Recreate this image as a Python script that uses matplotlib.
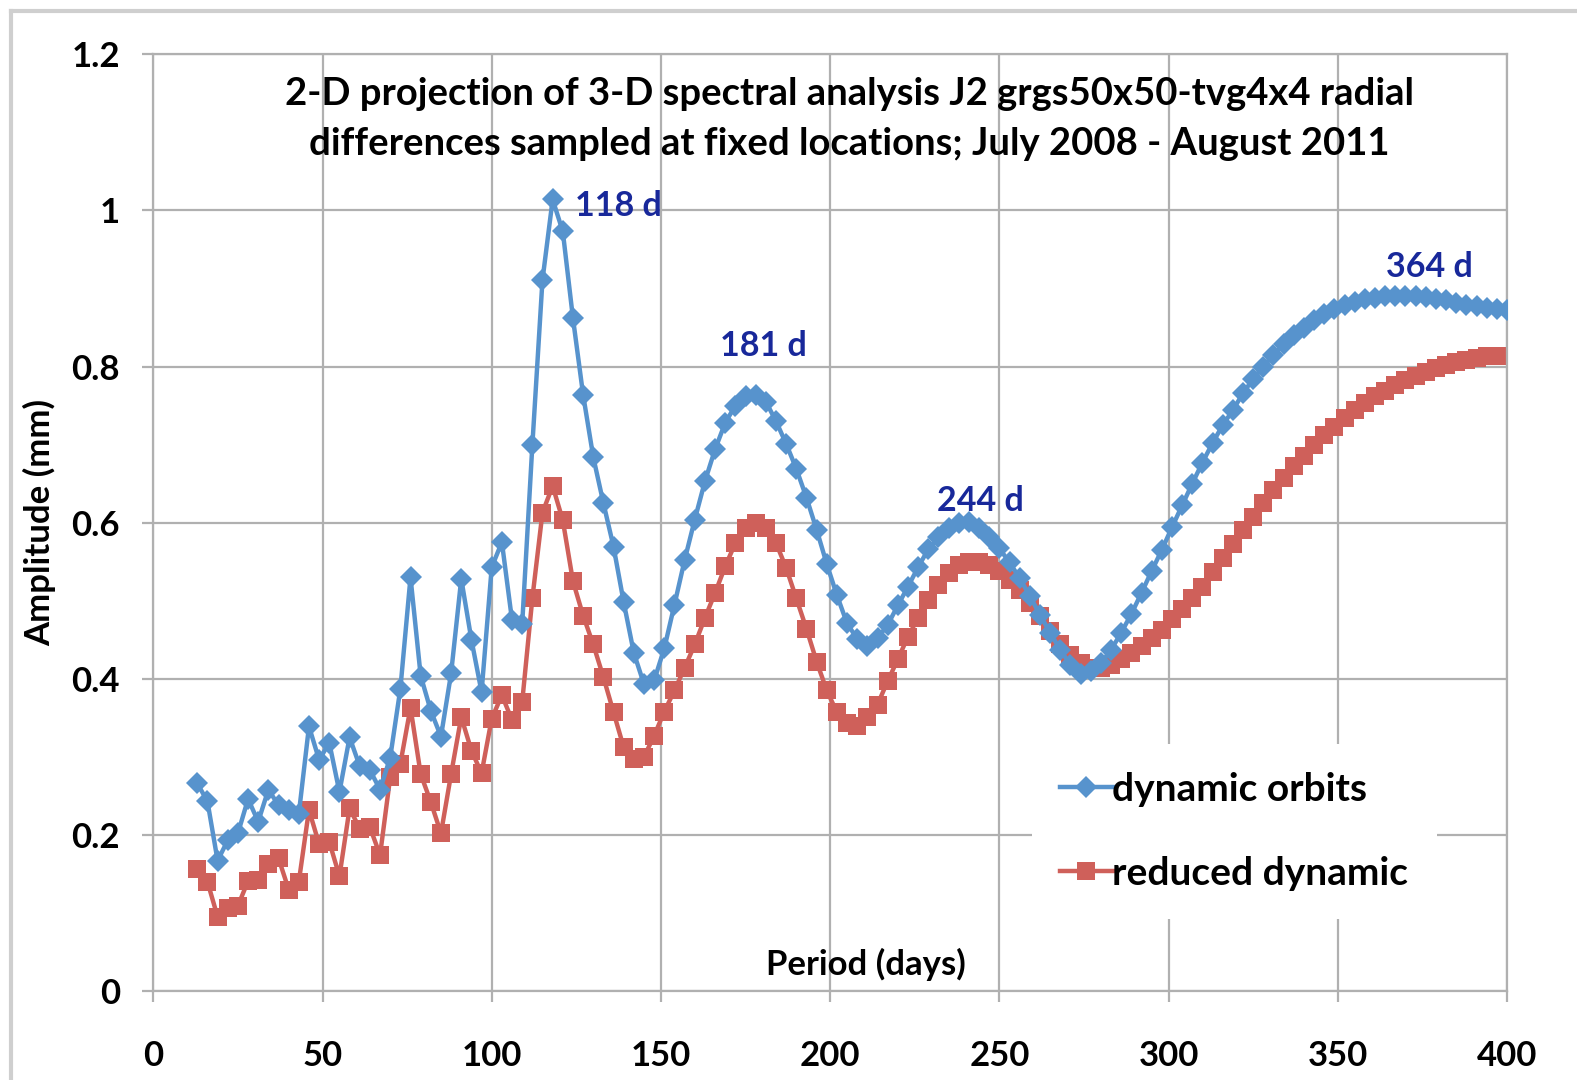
import matplotlib
matplotlib.use("Agg")
import matplotlib.pyplot as plt
from matplotlib.lines import Line2D
import numpy as np

plt.rcParams['font.family'] = ['Lato', 'DejaVu Sans']

# Period (days): 13, 16, ..., 400
periods = list(range(13, 401, 3))

dynamic_orbits = [
    0.266, 0.243, 0.167, 0.193, 0.202, 0.246, 0.217, 0.258, 0.238, 0.232,
    0.227, 0.339, 0.296, 0.318, 0.255, 0.325, 0.288, 0.283, 0.258, 0.299,
    0.387, 0.530, 0.404, 0.359, 0.326, 0.407, 0.528, 0.450, 0.383, 0.543,
    0.575, 0.475, 0.470, 0.699, 0.911, 1.014, 0.973, 0.862, 0.764, 0.684,
    0.625, 0.569, 0.498, 0.433, 0.393, 0.398, 0.439, 0.495, 0.552, 0.604,
    0.653, 0.694, 0.728, 0.750, 0.762, 0.764, 0.755, 0.730, 0.701, 0.669,
    0.632, 0.591, 0.547, 0.507, 0.471, 0.451, 0.442, 0.452, 0.469, 0.494,
    0.518, 0.543, 0.566, 0.581, 0.593, 0.600, 0.601, 0.593, 0.581, 0.567,
    0.549, 0.529, 0.506, 0.482, 0.459, 0.437, 0.418, 0.406, 0.410, 0.420,
    0.437, 0.459, 0.483, 0.510, 0.538, 0.565, 0.594, 0.622, 0.650, 0.677,
    0.702, 0.725, 0.744, 0.766, 0.784, 0.800, 0.815, 0.829, 0.840, 0.850,
    0.860, 0.867, 0.874, 0.879, 0.883, 0.886, 0.888, 0.890, 0.891, 0.891,
    0.890, 0.889, 0.887, 0.885, 0.882, 0.879, 0.877, 0.875, 0.874, 0.873,
]

reduced_dynamic = [
    0.156, 0.140, 0.095, 0.106, 0.109, 0.141, 0.142, 0.163, 0.170, 0.130,
    0.140, 0.232, 0.188, 0.191, 0.147, 0.234, 0.208, 0.210, 0.174, 0.274,
    0.291, 0.363, 0.278, 0.242, 0.202, 0.278, 0.351, 0.308, 0.279, 0.349,
    0.379, 0.347, 0.370, 0.503, 0.613, 0.647, 0.603, 0.525, 0.481, 0.444,
    0.402, 0.357, 0.312, 0.297, 0.300, 0.327, 0.358, 0.385, 0.414, 0.444,
    0.478, 0.510, 0.544, 0.574, 0.593, 0.600, 0.593, 0.574, 0.542, 0.503,
    0.464, 0.422, 0.385, 0.357, 0.343, 0.339, 0.351, 0.367, 0.397, 0.425,
    0.454, 0.478, 0.501, 0.520, 0.535, 0.546, 0.550, 0.550, 0.546, 0.538,
    0.527, 0.514, 0.497, 0.480, 0.461, 0.444, 0.431, 0.420, 0.414, 0.414,
    0.418, 0.425, 0.433, 0.442, 0.452, 0.463, 0.476, 0.489, 0.503, 0.518,
    0.537, 0.555, 0.573, 0.590, 0.607, 0.625, 0.642, 0.657, 0.672, 0.686,
    0.699, 0.712, 0.723, 0.734, 0.744, 0.753, 0.762, 0.769, 0.776, 0.783,
    0.788, 0.793, 0.798, 0.802, 0.806, 0.809, 0.811, 0.813, 0.814, 0.814,
]

series_labels = ["dynamic orbits", "reduced dynamic"]
peak_labels = ["118 d", "181 d", "244 d", "364 d"]
peak_pos = [(124.5, 1.006), (180.2, 0.826), (244.3, 0.628), (377.0, 0.927)]
peak_ha = ["left", "center", "center", "center"]
x_ticks = [0, 50, 100, 150, 200, 250, 300, 350, 400]
y_ticks = [0, 0.2, 0.4, 0.6, 0.8, 1.0, 1.2]
y_ticklabels = ["0", "0.2", "0.4", "0.6", "0.8", "1", "1.2"]
title_lines = ["2-D projection of 3-D spectral analysis J2 grgs50x50-tvg4x4 radial",
               "differences sampled at fixed locations; July 2008 - August 2011"]

BLUE = "#5793CD"
RED = "#CF605A"
GRID = "#b0b0b0"
NAVY = "#18289a"

W, H = 1577, 1080
fig = plt.figure(figsize=(W / 100, H / 100), dpi=100)
fig.patch.set_facecolor("white")

# outer light-grey frame (top and left edges)
fig.add_artist(Line2D([11 / W, 1.0], [1 - 11 / H, 1 - 11 / H], color="#cfcfcf", lw=3,
                      transform=fig.transFigure))
fig.add_artist(Line2D([11 / W, 11 / W], [0, 1 - 11 / H], color="#cfcfcf", lw=3,
                      transform=fig.transFigure))

left, right = 153.3 / W, 1507 / W
bottom, top = 1 - 991 / H, 1 - 54.3 / H
ax = fig.add_axes([left, bottom, right - left, top - bottom])

ax.plot(periods, dynamic_orbits, color=BLUE, lw=3.2, marker="D", ms=11.5,
        markeredgewidth=0, label=series_labels[0], zorder=3)
ax.plot(periods, reduced_dynamic, color=RED, lw=3.2, marker="s", ms=13,
        markeredgewidth=0, label=series_labels[1], zorder=2)

ax.set_xlim(0, 400)
ax.set_ylim(0, 1.2)
ax.set_xticks(x_ticks)
ax.set_xticklabels([str(t) for t in x_ticks])
ax.set_yticks(y_ticks)
ax.set_yticklabels(y_ticklabels)
ax.grid(True, color=GRID, lw=1.6, zorder=0)
ax.set_axisbelow(True)
for s in ax.spines.values():
    s.set_color(GRID)
    s.set_linewidth(1.6)
ax.tick_params(axis="both", direction="out", length=8, width=1.6, color=GRID,
               labelsize=25, labelcolor="black")
ax.tick_params(axis="y", pad=16)
ax.tick_params(axis="x", pad=27)
for lab in ax.get_xticklabels() + ax.get_yticklabels():
    lab.set_fontweight("bold")

# title inside plot area
ax.text(0.514, 0.958, title_lines[0], transform=ax.transAxes, ha="center",
        va="center", fontsize=27.5, fontweight="bold", color="black")
ax.text(0.514, 0.904, title_lines[1], transform=ax.transAxes, ha="center",
        va="center", fontsize=27.5, fontweight="bold", color="black")

# peak annotations
for lab, (px, py), ha in zip(peak_labels, peak_pos, peak_ha):
    ax.text(px, py, lab, ha=ha, va="center", fontsize=24.5, fontweight="bold",
            color=NAVY, zorder=5)

# axis labels
ax.text(0.5265, 0.0285, "Period (days)", transform=ax.transAxes, ha="center",
        va="center", fontsize=25, fontweight="bold", color="black")
fig.text(40 / W, 1 - 522 / H, "Amplitude (mm)", rotation=90, ha="center",
         va="center", fontsize=25, fontweight="bold", color="black")

leg = ax.legend(loc="upper left", bbox_to_anchor=((1032 - 153.3) / 1353.7, (991 - 744) / 936.7),
                frameon=True, fancybox=False, framealpha=1.0, facecolor="white",
                edgecolor="none", prop={"family": "Lato", "weight": "bold", "size": 28},
                handlelength=1.35, handletextpad=0.0, labelspacing=1.25,
                borderpad=0.72, borderaxespad=0)
leg.set_zorder(6)

fig.savefig("out.png", dpi=100, facecolor="white")
